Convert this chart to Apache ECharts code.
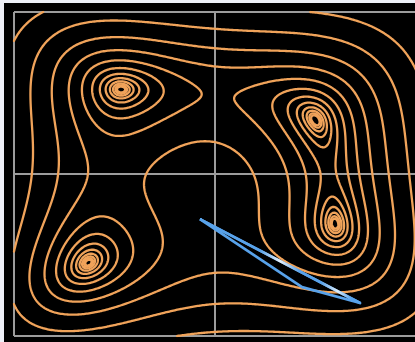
<!DOCTYPE html>
<html>
<head>
<meta charset="utf-8">
<script src="https://cdn.jsdelivr.net/npm/echarts@6/dist/echarts.min.js"></script>
<style>
  html, body { margin: 0; padding: 0; width: 415px; height: 342px; overflow: hidden; background: #eef0f8; }
  #chart { position: absolute; left: 4px; top: 3px; width: 424px; height: 339px; background: #000; }
</style>
</head>
<body>
<div id="chart"></div>
<script>
// Domain of the surface and the axis ticks (gridlines at the edges and through the origin)
const xRange = [-6, 6];
const yRange = [-6, 6];
const tickStep = 6;

// Contour levels of Himmelblau's function (powers of two)
const contourLevels = [0.5, 1, 2, 4, 8, 16, 32, 64, 128, 256, 512, 1024];

// Optimiser trajectory (closed triangle)
const pathX = [-0.45, 2.60, 4.33, -0.45];
const pathY = [-1.67, -4.19, -4.78, -1.67];

function himmelblau(x, y) {
  const a = x * x + y - 11;
  const b = x + y * y - 7;
  return a * a + b * b;
}

// Marching squares: returns polylines (arrays of [x, y]) for one level
function contourLines(level, n) {
  const x0 = xRange[0], y0 = yRange[0];
  const dx = (xRange[1] - xRange[0]) / n, dy = (yRange[1] - yRange[0]) / n;
  const v = [];
  for (let j = 0; j <= n; j++) {
    const row = [];
    for (let i = 0; i <= n; i++) row.push(himmelblau(x0 + i * dx, y0 + j * dy) - level);
    v.push(row);
  }
  const pos = {};
  const adj = {};
  function edgeKey(type, i, j) {
    const key = type + i + '_' + j;
    if (!pos[key]) {
      let a, b, xa, ya, xb, yb;
      if (type === 'h') { a = v[j][i]; b = v[j][i + 1]; xa = i; ya = j; xb = i + 1; yb = j; }
      else { a = v[j][i]; b = v[j + 1][i]; xa = i; ya = j; xb = i; yb = j + 1; }
      const t = a / (a - b);
      pos[key] = [x0 + (xa + t * (xb - xa)) * dx, y0 + (ya + t * (yb - ya)) * dy];
    }
    return key;
  }
  function seg(p, q) {
    (adj[p] = adj[p] || []).push(q);
    (adj[q] = adj[q] || []).push(p);
  }
  for (let j = 0; j < n; j++) {
    for (let i = 0; i < n; i++) {
      const bl = v[j][i] >= 0, br = v[j][i + 1] >= 0, tr = v[j + 1][i + 1] >= 0, tl = v[j + 1][i] >= 0;
      const E = {};
      if (bl !== br) E.bottom = edgeKey('h', i, j);
      if (br !== tr) E.right = edgeKey('v', i + 1, j);
      if (tl !== tr) E.top = edgeKey('h', i, j + 1);
      if (bl !== tl) E.left = edgeKey('v', i, j);
      const ks = Object.keys(E);
      if (ks.length === 2) {
        seg(E[ks[0]], E[ks[1]]);
      } else if (ks.length === 4) {
        const c = (v[j][i] + v[j][i + 1] + v[j + 1][i + 1] + v[j + 1][i]) / 4 >= 0;
        if (c === bl) { seg(E.bottom, E.right); seg(E.top, E.left); }
        else { seg(E.bottom, E.left); seg(E.right, E.top); }
      }
    }
  }
  const visited = new Set();
  const lines = [];
  function walk(start) {
    const line = [start];
    visited.add(start);
    let cur = start;
    for (;;) {
      const nb = adj[cur].find(k => !visited.has(k));
      if (nb === undefined) break;
      visited.add(nb);
      line.push(nb);
      cur = nb;
    }
    if (line.length > 2 && adj[cur].includes(start)) line.push(start);
    return line.map(k => pos[k]);
  }
  const keys = Object.keys(adj);
  keys.forEach(k => { if (!visited.has(k) && adj[k].length === 1) lines.push(walk(k)); });
  keys.forEach(k => { if (!visited.has(k)) lines.push(walk(k)); });
  return lines;
}

const contourData = [];
contourLevels.forEach(lv => {
  contourLines(lv, 300).forEach(line => contourData.push({ coords: line }));
});

const pathData = pathX.map((x, i) => [x, pathY[i]]);

const chart = echarts.init(document.getElementById('chart'), null, { renderer: 'canvas' });

const axisCommon = {
  type: 'value',
  interval: tickStep,
  axisLabel: { show: false },
  axisTick: { show: false },
  axisLine: { show: false },
  splitLine: { show: true, lineStyle: { color: '#9c9c9c', width: 2 } }
};

chart.setOption({
  backgroundColor: '#000',
  animation: false,
  grid: { left: 10, top: 9, width: 402, height: 324, containLabel: false },
  xAxis: Object.assign({ min: xRange[0], max: xRange[1] }, axisCommon),
  yAxis: Object.assign({ min: yRange[0], max: yRange[1] }, axisCommon),
  series: [
    {
      type: 'lines',
      coordinateSystem: 'cartesian2d',
      polyline: true,
      silent: true,
      lineStyle: { color: '#f0a35a', width: 2.3, opacity: 1, cap: 'round', join: 'round' },
      data: contourData
    },
    {
      type: 'line',
      data: pathData,
      symbol: 'none',
      silent: true,
      lineStyle: { color: '#58a2ea', width: 2.7, join: 'round' }
    },
    {
      // upper leg of the trajectory with its pale highlights
      type: 'line',
      data: pathData.slice(2, 4),
      symbol: 'none',
      silent: true,
      lineStyle: {
        width: 2.7,
        color: new echarts.graphic.LinearGradient(0, 0, 1, 0, [
          { offset: 0, color: '#58a2ea' },
          { offset: 0.38, color: '#58a2ea' },
          { offset: 0.5, color: '#e8f2fb' },
          { offset: 0.62, color: '#58a2ea' },
          { offset: 0.75, color: '#58a2ea' },
          { offset: 0.85, color: '#dfeefa' },
          { offset: 0.93, color: '#58a2ea' },
          { offset: 1, color: '#58a2ea' }
        ])
      }
    }
  ]
});
</script>
</body>
</html>
